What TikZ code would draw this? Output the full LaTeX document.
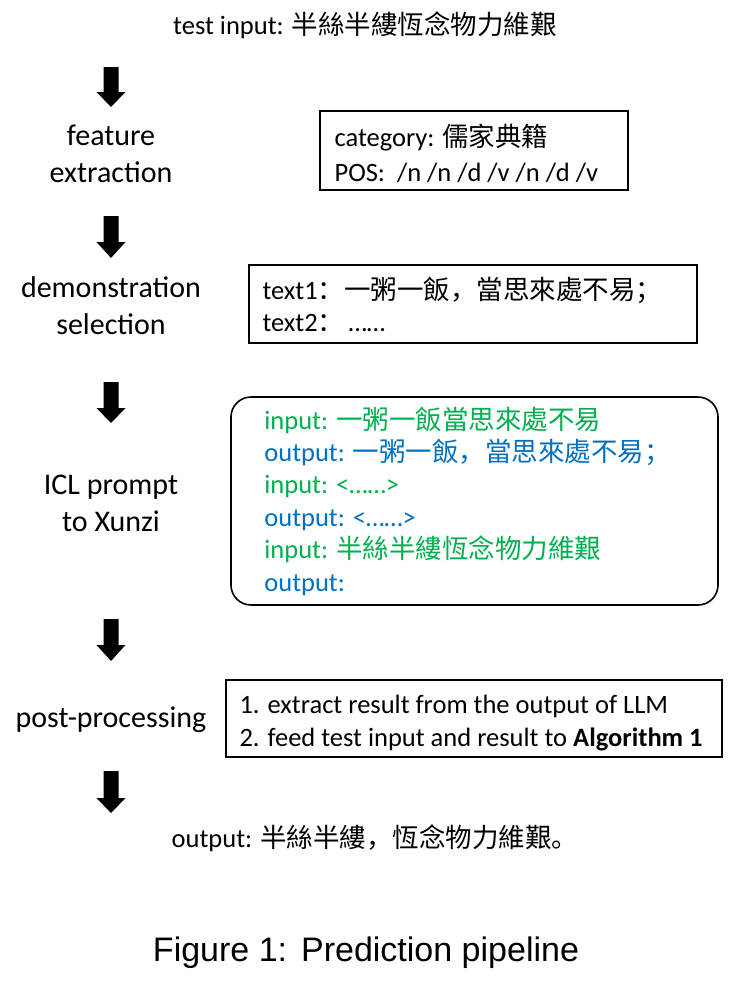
\documentclass[tikz,border=0pt]{standalone}
\usepackage{fontspec}
\setmainfont{Carlito}
\newfontfamily\cjk{Noto Sans CJK SC}
\newfontfamily\capfont{Liberation Sans}
\definecolor{icgreen}{RGB}{0,176,80}
\definecolor{icblue}{RGB}{0,112,192}
\newcommand\zh[1]{{\cjk #1}}
\newcommand\blkarrow[3]{%
  \fill (103.5,#1) -- (118.5,#1) -- (118.5,#2) -- (125.5,#2) -- (111,#3) -- (96.5,#2) -- (103.5,#2) -- cycle;}
\begin{document}
\begin{tikzpicture}[x=1pt,y=-1pt,
  lbl/.style={font=\fontsize{30}{37}\selectfont, align=center, inner sep=0pt},
  plain/.style={font=\fontsize{26.5}{33}\selectfont, inner sep=0pt},
  infobox/.style={draw, line width=1.3pt, inner sep=0pt},
  promptbox/.style={draw, line width=1.6pt, rounded corners=20pt, inner sep=0pt},
  boxtext/.style={align=flush left, anchor=west, inner sep=0pt, font=\fontsize{26.5}{#1}\selectfont},
  capt/.style={font=\capfont\fontsize{34}{40}\selectfont, inner sep=0pt}]
\useasboundingbox (0,0) rectangle (737,983);

% top input
\node[plain] (tin) at (365,25) {test input: \zh{半絲半縷恆念物力維艱}};

% step labels
\node[lbl] (fe) at (111,153.5) {feature\\extraction};
\node[lbl] (ds) at (111,306) {demonstration\\selection};
\node[lbl] (icl) at (111,503) {ICL prompt\\to Xunzi};
\node[lbl] (pp) at (111,720) {post-processing};

% output
\node[plain] (out) at (375,838) {output: \zh{半絲半縷，恆念物力維艱。}};

% boxes
\node[infobox, minimum width=308pt, minimum height=79pt] (b1) at (474,150.5) {};
\node[boxtext=35] (b1t) at ([xshift=15pt,yshift=-3pt]b1.west)
  {category: \zh{儒家典籍}\\POS:\ \ /n /n /d /v /n /d /v};

\node[infobox, minimum width=448pt, minimum height=78pt] (b2) at (473,304) {};
\node[boxtext=32] (b2t) at ([xshift=14pt]b2.west)
  {text1\zh{：一粥一飯，當思來處不易；}\\text2\zh{：}\,……};

\node[promptbox, minimum width=487pt, minimum height=208pt] (b3) at (474.5,501) {};
\node[boxtext=32.4] (b3t) at ([xshift=34pt]b3.west)
  {\textcolor{icgreen}{input: \zh{一粥一飯當思來處不易}}\\
   \textcolor{icblue}{output: \zh{一粥一飯，當思來處不易；}}\\
   \textcolor{icgreen}{input: <……>}\\
   \textcolor{icblue}{output: <……>}\\
   \textcolor{icgreen}{input: \zh{半絲半縷恆念物力維艱}}\\
   \textcolor{icblue}{output:}};

\node[infobox, minimum width=496pt, minimum height=77pt] (b4) at (474,718.5) {};
\node[boxtext=33] (b4t) at ([xshift=14pt,yshift=-5pt]b4.west)
  {1. extract result from the output of LLM\\2. feed test input and result to \textbf{Algorithm 1}};

% block arrows
\blkarrow{67}{92}{107}
\blkarrow{216}{242}{258}
\blkarrow{382}{408}{423}
\blkarrow{619}{645}{661}
\blkarrow{771}{798}{813}

% caption
\node[capt] (cap) at (366,953) {Figure 1:\hspace{14pt}Prediction pipeline};
\end{tikzpicture}
\end{document}
